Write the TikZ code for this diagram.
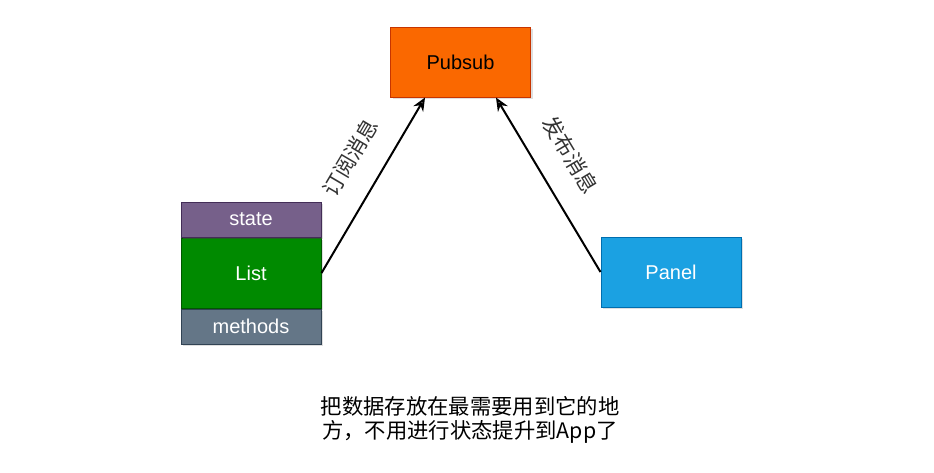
\documentclass[tikz,border=0pt]{standalone}
\usepackage{fontspec}
\setmainfont{Liberation Sans}
\newfontfamily\cjk{Noto Sans CJK SC}
\usetikzlibrary{positioning, arrows.meta, shadows}

\definecolor{pubsubfill}{HTML}{FA6800}
\definecolor{pubsubline}{HTML}{C73500}
\definecolor{statefill}{HTML}{76608A}
\definecolor{stateline}{HTML}{432D57}
\definecolor{listfill}{HTML}{008A00}
\definecolor{listline}{HTML}{005700}
\definecolor{methodsfill}{HTML}{647687}
\definecolor{methodsline}{HTML}{314354}
\definecolor{panelfill}{HTML}{1BA1E2}
\definecolor{panelline}{HTML}{006EAF}
\definecolor{labelgray}{HTML}{333333}

\begin{document}
\begin{tikzpicture}[x=0.75pt, y=-0.75pt,
    box/.style={draw, line width=0.75pt, minimum width=105pt, minimum height=52.5pt,
        inner sep=0pt, font=\fontsize{15}{18}\selectfont,
        drop shadow={shadow xshift=1.5pt, shadow yshift=-1.5pt, opacity=0.25, fill=gray}},
    band/.style={box, minimum height=26.25pt, text=white},
    msg/.style={draw, line width=1.5pt, -{Stealth[open, length=10pt, width=8.5pt]}},
    msglabel/.style={sloped, font=\cjk\fontsize{16}{18}\selectfont, text=labelgray}]
        \useasboundingbox (0,0) rectangle (934,472);

        \node[box, fill=pubsubfill, draw=pubsubline](pubsub) at (460.5,62) {Pubsub};
        \node[box, fill=listfill, draw=listline, text=white](list) at (251,273) {List};
        \node[band, fill=statefill, draw=stateline](state)[above=0pt of list] {state};
        \node[band, fill=methodsfill, draw=methodsline](methods)[below=0pt of list] {methods};
        \node[box, fill=panelfill, draw=panelline, text=white](panel) at (671,272) {Panel};

        \draw[msg] (list.east) -- node[msglabel, pos=0.56, above=14pt] {订阅消息} ([xshift=-26.6pt]pubsub.south);
        \draw[msg] (panel.west) -- node[msglabel, pos=0.57, above=14pt] {发布消息} ([xshift=26.6pt]pubsub.south);

        \node[font=\cjk\fontsize{16}{18}\selectfont, align=center](note) at (470,420)
            {把数据存放在最需要用到它的地\\方，不用进行状态提升到App了};
    \end{tikzpicture}
\end{document}
